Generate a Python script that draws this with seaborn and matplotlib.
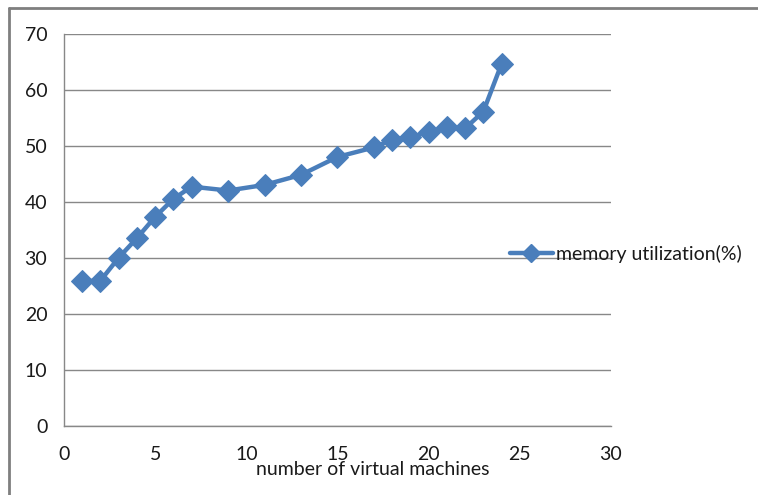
import matplotlib
matplotlib.use("Agg")
import matplotlib.pyplot as plt
from matplotlib.lines import Line2D
import seaborn as sns
import pandas as pd

# memory utilization measured for each number of virtual machines
vm_counts = [1, 2, 3, 4, 5, 6, 7, 9, 11, 13, 15, 17, 18, 19, 20, 21, 22, 23, 24]
memory_util = [25.9, 26.0, 30.1, 33.6, 37.4, 40.6, 42.8, 42.1, 43.1, 44.9,
               48.1, 49.8, 51.2, 51.6, 52.6, 53.4, 53.2, 56.2, 64.7]
series_name = "memory utilization(%)"
x_ticks = [0, 5, 10, 15, 20, 25, 30]
y_ticks = [0, 10, 20, 30, 40, 50, 60, 70]

df = pd.DataFrame({"vms": vm_counts, "mem": memory_util, "series": series_name})

sns.set_style("white")
plt.rcParams["font.family"] = ["Lato", "DejaVu Sans"]

fig = plt.figure(figsize=(7.58, 4.95), dpi=100)
ax = fig.add_axes([0.0844, 0.1388, 0.7216, 0.7919])

blue = "#4A7EBB"
grid_gray = "#888888"

sns.lineplot(data=df, x="vms", y="mem", hue="series", palette=[blue],
             marker="D", markersize=11, linewidth=3.2, markeredgecolor=blue,
             ax=ax, legend=False, zorder=3)

ax.set_xlim(0, 30)
ax.set_ylim(0, 70)
ax.set_xticks(x_ticks)
ax.set_yticks(y_ticks)
ax.set_xticklabels([str(t) for t in x_ticks])
ax.set_yticklabels([str(t) for t in y_ticks])

ax.yaxis.grid(True, color=grid_gray, linewidth=1.0)
ax.xaxis.grid(False)
for side in ["top", "right"]:
    ax.spines[side].set_visible(False)
for side in ["left", "bottom"]:
    ax.spines[side].set_color(grid_gray)
    ax.spines[side].set_linewidth(1.0)

ax.tick_params(axis="both", which="major", direction="out", length=5,
               width=1.0, color=grid_gray, labelsize=14,
               labelcolor="#1a1a1a")
ax.tick_params(axis="x", pad=9)
ax.tick_params(axis="y", pad=7)

ax.set_xlabel("number of virtual machines", fontsize=14, color="#1a1a1a")
ax.xaxis.set_label_coords(0.565, -0.088)
ax.set_ylabel("")

handle = Line2D([0], [0], color=blue, linewidth=3.2, marker="D",
                markersize=9, markeredgecolor=blue)
ax.legend([handle], [series_name], loc="center left",
          bbox_to_anchor=(0.815, 0.439), frameon=False, fontsize=14,
          handlelength=2.2, handletextpad=0.2, borderaxespad=0, borderpad=0,
          labelcolor="#1a1a1a")

# outer frame on the left and top edges
fig.add_artist(Line2D([0.0125, 0.0125], [0.0, 0.983], transform=fig.transFigure,
                      color="#7f7f7f", linewidth=2))
fig.add_artist(Line2D([0.0125, 1.0], [0.983, 0.983], transform=fig.transFigure,
                      color="#7f7f7f", linewidth=2))

fig.savefig("out.png", dpi=100)
